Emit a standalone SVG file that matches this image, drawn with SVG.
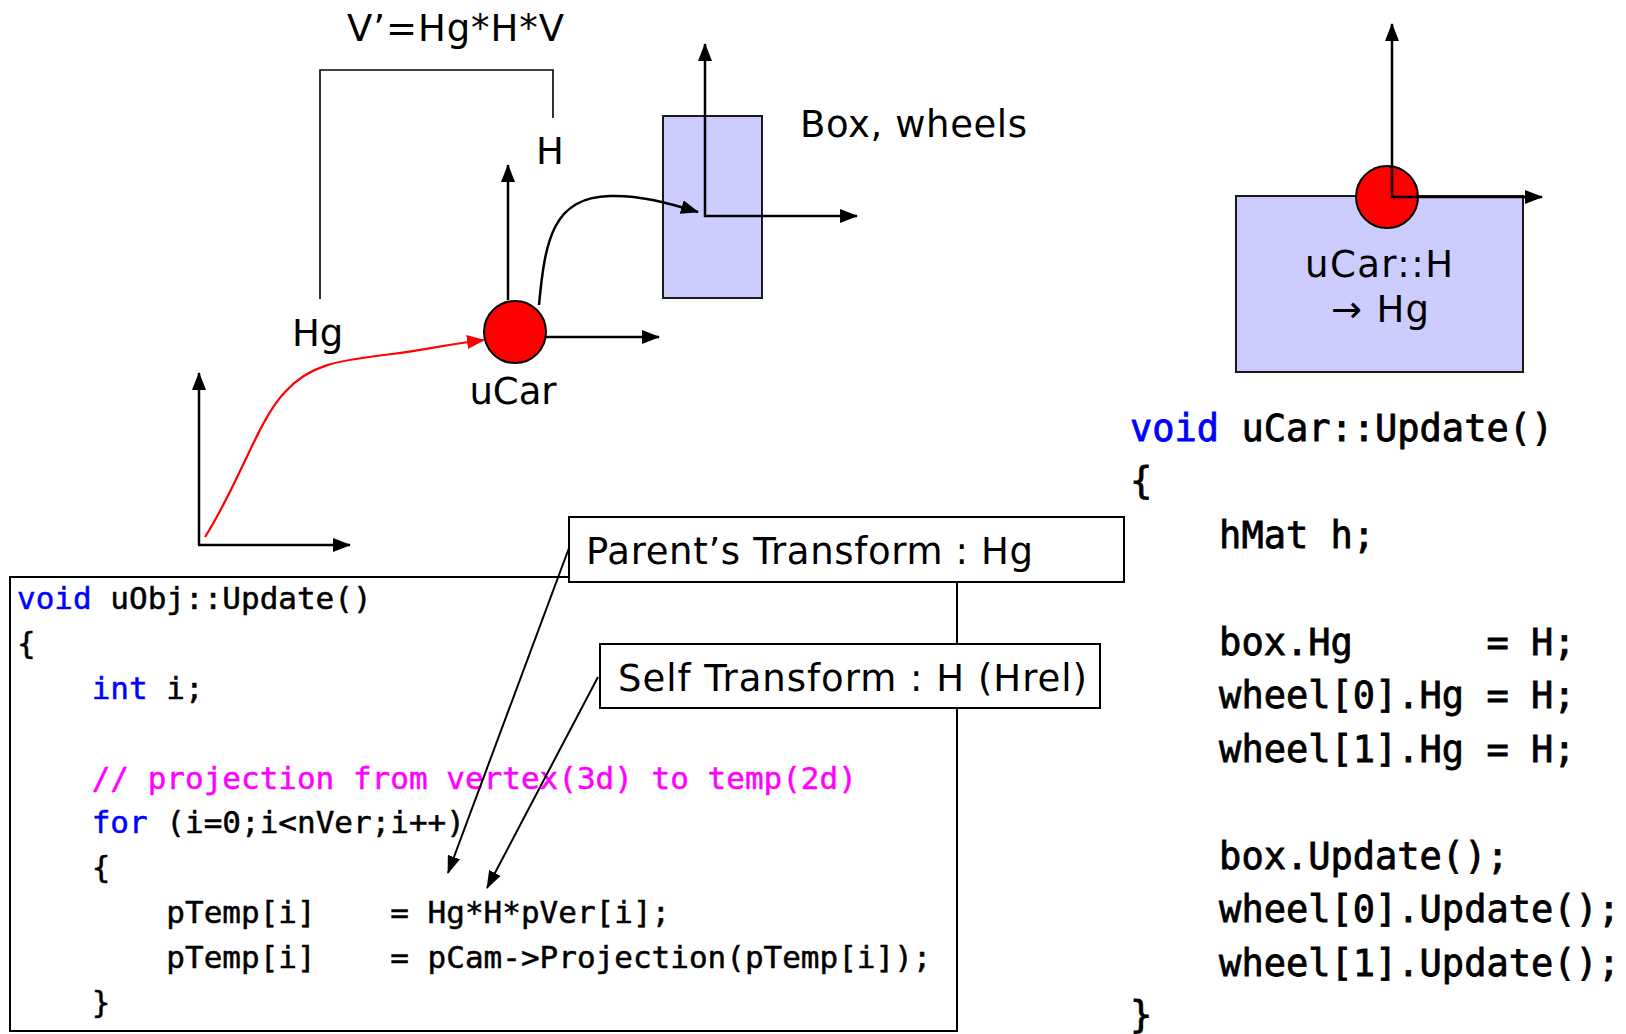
<svg xmlns="http://www.w3.org/2000/svg" width="1626" height="1034" viewBox="0 0 1626 1034">
  <style>
    .lbl { font-family: "DejaVu Sans", Verdana, sans-serif; font-size: 37px; fill: #000; }
    .code { font-family: "DejaVu Sans Mono", Consolas, "Liberation Mono", monospace; fill: #000; stroke: #000; stroke-width: 0.5; white-space: pre; }
    .big { stroke-width: 0.8; }
    .kw { fill: #0000FF; stroke: #0000FF; }
    .cm { fill: #FF00FF; stroke: #FF00FF; }
    .axis { stroke: #000; stroke-width: 2.5; fill: none; marker-end: url(#ah); }
    .thin { stroke: #000; stroke-width: 1.6; fill: none; }
    .frame { fill: #fff; stroke: #000; stroke-width: 2; }
    .body { fill: #CCCCFF; stroke: #1a1a1a; stroke-width: 2; }
    .joint { fill: #FF0000; stroke: #000; stroke-width: 2; }
  </style>
  <defs>
    <marker id="ah" markerUnits="userSpaceOnUse" markerWidth="18" markerHeight="14" refX="17" refY="7" orient="auto">
      <path d="M0,0 L18,7 L0,14 z" fill="#000"/>
    </marker>
    <marker id="ahs" markerUnits="userSpaceOnUse" markerWidth="18" markerHeight="13" refX="17" refY="6.5" orient="auto">
      <path d="M0,0 L18,6.5 L0,13 z" fill="#000"/>
    </marker>
    <marker id="ahr" markerUnits="userSpaceOnUse" markerWidth="18" markerHeight="14" refX="17" refY="7" orient="auto">
      <path d="M0,0 L18,7 L0,14 z" fill="#FF0000"/>
    </marker>
  </defs>

  <rect width="1626" height="1034" fill="#fff"/>

  <!-- world frame -->
  <g id="world">
    <line class="axis" x1="199" y1="545" x2="199" y2="373"/>
    <line class="axis" x1="198" y1="545" x2="350" y2="545"/>
  </g>

  <!-- formula bracket over the transforms -->
  <g id="formula">
    <text class="lbl" x="347" y="41" font-size="38" textLength="217" lengthAdjust="spacing">V’=Hg*H*V</text>
    <polyline class="thin" points="320,299 320,70 553,70 553,118"/>
    <text class="lbl" x="536" y="164">H</text>
    <text class="lbl" x="292" y="346">Hg</text>
  </g>

  <!-- box with its local frame -->
  <g id="box">
    <rect class="body" x="663" y="116" width="99" height="182"/>
    <line class="axis" x1="705" y1="217" x2="705" y2="44"/>
    <line class="axis" x1="704" y1="216" x2="857" y2="216"/>
    <text class="lbl" x="800" y="137" textLength="227" lengthAdjust="spacing">Box, wheels</text>
  </g>

  <!-- car origin with its local frame -->
  <g id="ucar">
    <line class="axis" x1="508" y1="300" x2="508" y2="165"/>
    <line class="axis" x1="545" y1="337" x2="659" y2="337"/>
    <circle class="joint" cx="515" cy="332" r="31"/>
    <text class="lbl" x="513" y="404" text-anchor="middle">uCar</text>
  </g>

  <!-- car hierarchy: body box with the car origin on top -->
  <g id="car-hierarchy">
    <rect class="body" x="1236" y="196" width="287" height="176"/>
    <circle class="joint" cx="1387" cy="197" r="31"/>
    <line class="axis" x1="1392" y1="197" x2="1392" y2="24"/>
    <line class="axis" x1="1391" y1="197" x2="1542" y2="197"/>
    <text class="lbl" x="1305" y="277" textLength="148" lengthAdjust="spacing">uCar::H</text>
    <text class="lbl" x="1331" y="322" textLength="98" lengthAdjust="spacing">→ Hg</text>
  </g>

  <!-- transform links -->
  <g id="connectors">
    <path d="M205,537 C240,482 258,420 285,392 C312,362 345,360 392,354 C425,350 450,344 484,340" stroke="#FF0000" stroke-width="2.2" fill="none" marker-end="url(#ahr)"/>
    <path d="M539,305 C545,240 553,197 610,196 C640,195 668,203 698,212" stroke="#000" stroke-width="2.5" fill="none" marker-end="url(#ah)"/>
  </g>

  <!-- uObj::Update listing -->
  <g id="uobj-code">
    <rect x="10" y="577" width="947" height="454" fill="none" stroke="#000" stroke-width="2"/>
    <text class="code" font-size="31" x="17" y="609"><tspan class="kw">void</tspan> uObj::Update()</text>
    <text class="code" font-size="31" x="17" y="654">{</text>
    <text class="code" font-size="31" x="17" y="699">    <tspan class="kw">int</tspan> i;</text>
    <text class="code cm" font-size="31" x="17" y="789">    // projection from vertex(3d) to temp(2d)</text>
    <text class="code" font-size="31" x="17" y="833">    <tspan class="kw">for</tspan> (i=0;i&lt;nVer;i++)</text>
    <text class="code" font-size="31" x="17" y="878">    {</text>
    <text class="code" font-size="31" x="17" y="923">        pTemp[i]    = Hg*H*pVer[i];</text>
    <text class="code" font-size="31" x="17" y="968">        pTemp[i]    = pCam-&gt;Projection(pTemp[i]);</text>
    <text class="code" font-size="31" x="17" y="1013">    }</text>
  </g>

  <!-- uCar::Update listing -->
  <g id="ucar-code">
    <text class="code big" font-size="37" x="1130" y="441"><tspan class="kw">void</tspan> uCar::Update()</text>
    <text class="code big" font-size="37" x="1130" y="494">{</text>
    <text class="code big" font-size="37" x="1130" y="548">    hMat h;</text>
    <text class="code big" font-size="37" x="1130" y="655">    box.Hg      = H;</text>
    <text class="code big" font-size="37" x="1130" y="708">    wheel[0].Hg = H;</text>
    <text class="code big" font-size="37" x="1130" y="762">    wheel[1].Hg = H;</text>
    <text class="code big" font-size="37" x="1130" y="869">    box.Update();</text>
    <text class="code big" font-size="37" x="1130" y="922">    wheel[0].Update();</text>
    <text class="code big" font-size="37" x="1130" y="976">    wheel[1].Update();</text>
    <text class="code big" font-size="37" x="1130" y="1028">}</text>
  </g>

  <!-- callouts -->
  <g id="callout-parent">
    <rect class="frame" x="569" y="517" width="555" height="65"/>
    <text class="lbl" x="586" y="564" textLength="447" lengthAdjust="spacing">Parent’s Transform : Hg</text>
  </g>
  <g id="callout-self">
    <rect class="frame" x="600" y="644" width="500" height="64"/>
    <text class="lbl" x="618" y="691" textLength="469" lengthAdjust="spacing">Self Transform : H (Hrel)</text>
  </g>
  <g id="callout-leaders">
    <line x1="569" y1="548" x2="448" y2="873" stroke="#000" stroke-width="2" marker-end="url(#ahs)"/>
    <line x1="598" y1="677" x2="487" y2="888" stroke="#000" stroke-width="2" marker-end="url(#ahs)"/>
  </g>
</svg>
